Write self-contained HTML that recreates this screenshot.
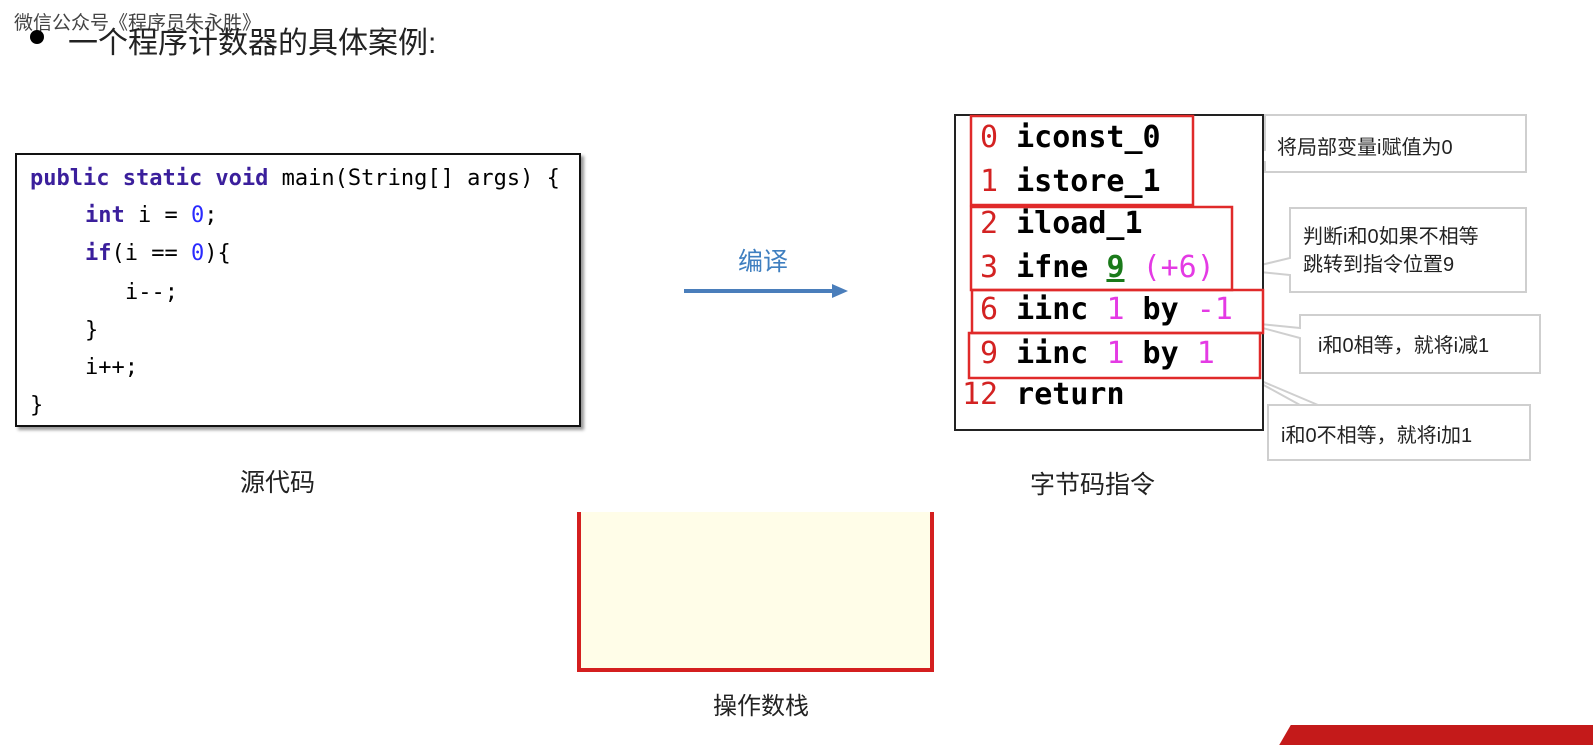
<!DOCTYPE html>
<html><head><meta charset="utf-8"><style>
body{margin:0;width:1593px;height:738px;background:#fff;position:relative;overflow:hidden;font-family:"Liberation Sans","Noto Sans CJK SC",sans-serif}
.a{position:absolute;white-space:nowrap}
.code{font-family:"DejaVu Sans Mono","Liberation Mono",monospace;font-size:22px;color:#000}
.kw{color:#3b1f9c;font-weight:bold}
.num{color:#2a2aff}
.bc{font-family:"DejaVu Sans Mono","Liberation Mono",monospace;font-weight:bold;font-size:30px;color:#000}
.r{color:#d32222;font-weight:normal}
.m{color:#e43ae4;font-weight:normal}
.g{color:#1a7a1a;text-decoration:underline}
.cn{font-size:20px;color:#222}
</style></head><body>
<div class="a" style="left:14px;top:8px;font-size:19px;color:#444">微信公众号《程序员朱永胜》</div>
<div class="a" style="left:30px;top:30px;width:14px;height:14px;border-radius:50%;background:#000"></div>
<div class="a" style="left:68px;top:18px;font-size:30px;color:#222">一个程序计数器的具体案例:</div>

<div class="a" style="left:15px;top:153px;width:562px;height:270px;border:2px solid #111;box-shadow:3px 3px 3px #999"></div>
<div class="a code" style="left:30px;top:166px"><span class="kw">public static void</span> main(String[] args) {</div>
<div class="a code" style="left:85px;top:203px"><span class="kw">int</span> i = <span class="num">0</span>;</div>
<div class="a code" style="left:85px;top:241px"><span class="kw">if</span>(i == <span class="num">0</span>){</div>
<div class="a code" style="left:125px;top:280px">i--;</div>
<div class="a code" style="left:85px;top:318px">}</div>
<div class="a code" style="left:85px;top:355px">i++;</div>
<div class="a code" style="left:30px;top:393px">}</div>
<div class="a" style="left:240px;top:463px;font-size:25px;color:#222">源代码</div>

<div class="a" style="left:738px;top:242px;font-size:25px;color:#3f7fc0">编译</div>
<svg class="a" style="left:0;top:0" width="1593" height="738">
<line x1="684" y1="291" x2="834" y2="291" stroke="#4a7ebb" stroke-width="4"/>
<polygon points="832,284 848,291 832,298" fill="#4a7ebb"/>
<rect x="579" y="512" width="353" height="158" fill="#fffde8"/>
<polyline points="579,512 579,670 932,670 932,512" fill="none" stroke="#d41f1f" stroke-width="4"/>
<g fill="#fff" stroke="#cfcfcf" stroke-width="2">
<polygon points="1265,115 1526,115 1526,172 1265,172 1265,162 1213,157 1265,150"/>
<polygon points="1290,208 1526,208 1526,292 1290,292 1290,275 1240,270 1290,258"/>
<polygon points="1300,315 1540,315 1540,373 1300,373 1300,338 1240,322 1300,328"/>
<polygon points="1268,405 1530,405 1530,460 1268,460 1268,405 1318,405 1240,372 1300,405"/>
</g>
<rect x="955" y="115" width="308" height="315" fill="#fff" stroke="#222" stroke-width="2"/>
<g fill="none" stroke="#e02a2a" stroke-width="2.5">
<rect x="971" y="116" width="222" height="89"/>
<rect x="971" y="207" width="261" height="83"/>
<rect x="972" y="290" width="291" height="43"/>
<rect x="969" y="333" width="291" height="45"/>
</g>
</svg>
<div class="a bc" style="left:980px;top:120px"><span class="r">0</span> iconst_0</div>
<div class="a bc" style="left:980px;top:164px"><span class="r">1</span> istore_1</div>
<div class="a bc" style="left:980px;top:206px"><span class="r">2</span> iload_1</div>
<div class="a bc" style="left:980px;top:250px"><span class="r">3</span> ifne <span class="g">9</span> <span class="m">(+6)</span></div>
<div class="a bc" style="left:980px;top:292px"><span class="r">6</span> iinc <span class="m">1</span> by <span class="m">-1</span></div>
<div class="a bc" style="left:980px;top:336px"><span class="r">9</span> iinc <span class="m">1</span> by <span class="m">1</span></div>
<div class="a bc" style="left:962px;top:377px"><span class="r">12</span> return</div>
<div class="a cn" style="left:1277px;top:131px">将局部变量i赋值为0</div>
<div class="a cn" style="left:1303px;top:223px;line-height:28px">判断i和0如果不相等<br>跳转到指令位置9</div>
<div class="a cn" style="left:1318px;top:329px">i和0相等，就将i减1</div>
<div class="a cn" style="left:1281px;top:419px">i和0不相等，就将i加1</div>
<div class="a" style="left:1030px;top:465px;font-size:25px;color:#222">字节码指令</div>
<div class="a" style="left:713px;top:686px;font-size:24px;color:#222">操作数栈</div>
<div class="a" style="left:1285px;top:725px;width:330px;height:20px;background:#c41a1a;transform:skewX(-30deg)"></div>
</body></html>
